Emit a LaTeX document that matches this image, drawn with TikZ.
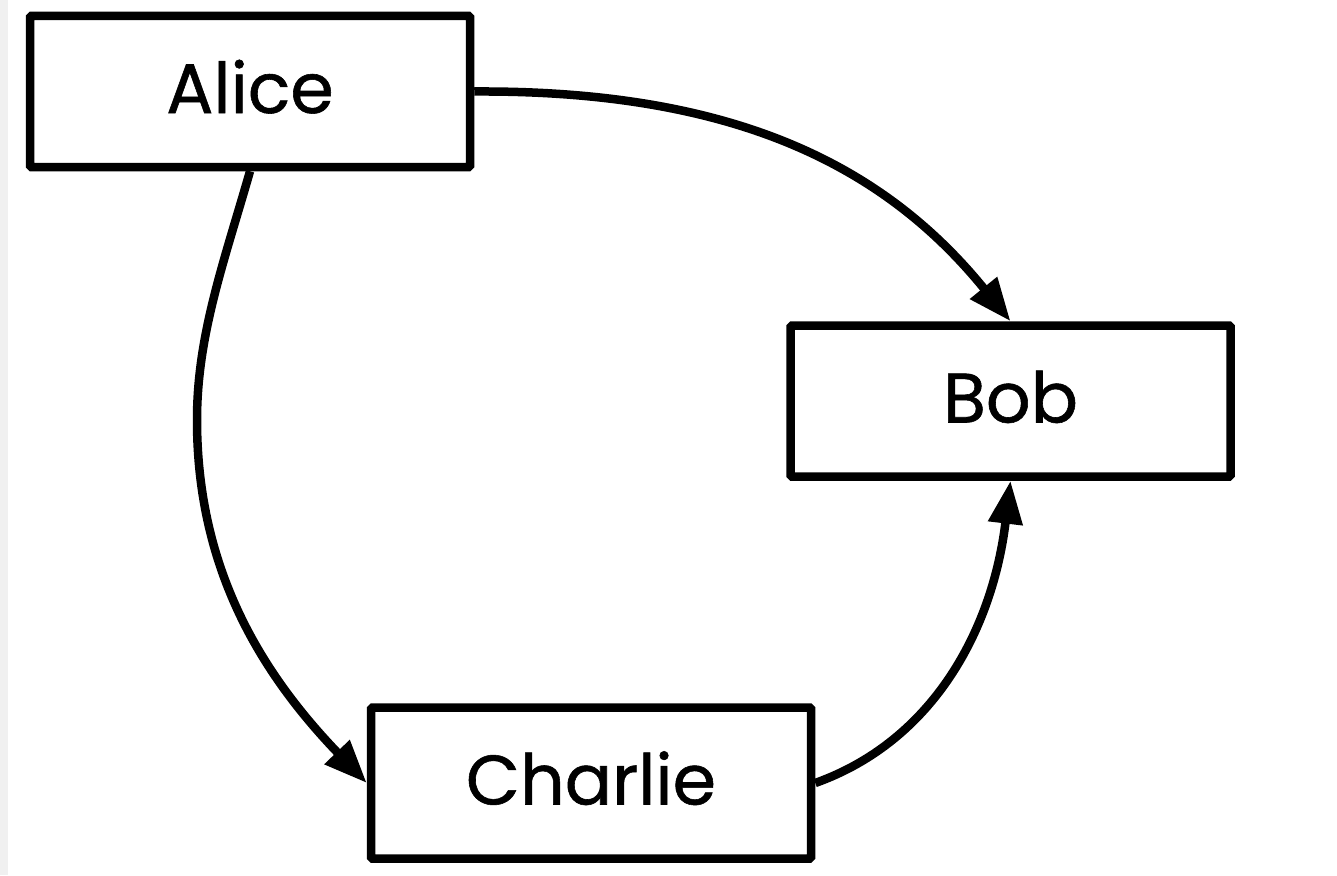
\documentclass[tikz,border=0pt]{standalone}
\usepackage{fontspec}
\setmainfont{Poppins}[UprightFeatures={FakeBold=0.8}]
\usetikzlibrary{arrows.meta}
\begin{document}
\begin{tikzpicture}[x=1pt,y=-1pt,
  box/.style={draw=black, line width=8.5pt, fill=white, rounded corners=1.5pt,
    minimum width=440pt, minimum height=151pt, inner sep=0pt,
    text height=52pt, text depth=9pt, font=\fontsize{70}{76}\selectfont},
  conn/.style={line width=8.5pt, -{Triangle[length=43pt,width=33pt]}}]
\useasboundingbox (0,0) rectangle (1337,875);
\fill[white] (0,0) rectangle (1337,875);
\fill[black!6] (0,0) rectangle (8,875);
\node[box] (alice) at (250,91.5) {Alice};
\node[box] (bob) at (1010.5,401) {Bob};
\node[box] (charlie) at (591,783) {Charlie};
\coordinate (leftmost) at (197,420);
\draw[conn] (alice.east) .. controls (732,90) and (883,164) .. (bob.north);
\draw[conn] (alice.south) .. controls (224,262) and (197,335) .. (leftmost)
  .. controls (197,570) and (262,674) .. (charlie.west);
\draw[conn] (charlie.east) .. controls (933,741) and (992.5,630) .. (bob.south);
\end{tikzpicture}
\end{document}
